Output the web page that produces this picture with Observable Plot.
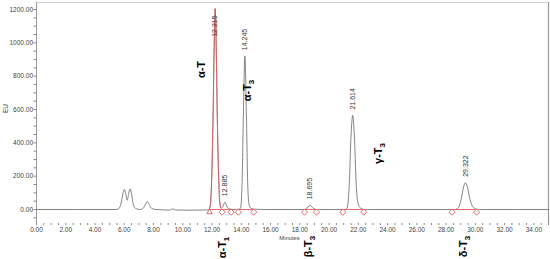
<!DOCTYPE html>
<html>
<head>
<meta charset="utf-8">
<script src="https://cdn.jsdelivr.net/npm/d3@7"></script>
<script src="https://cdn.jsdelivr.net/npm/@observablehq/plot@0.6"></script>
<style>
  html, body { margin: 0; padding: 0; background: #fff; }
  #chart svg { display: block; overflow: visible; }
</style>
</head>
<body>
<div id="chart"></div>
<script>
// ---- Data ----
const traceTime = [0, 5.45, 5.65, 5.8, 5.92, 6.0, 6.1, 6.2, 6.3, 6.4, 6.5, 6.62, 6.8, 7.1, 7.3, 7.45, 7.57, 7.7, 7.85, 8.1, 8.6, 9.1, 9.3, 9.5, 10.5, 11.5, 11.8,
  11.9, 11.98, 12.06, 12.14, 12.215, 12.29, 12.37, 12.45, 12.53, 12.62,
  12.75, 12.83, 12.885, 12.95, 13.05, 13.2, 13.5,
  13.88, 13.95, 14.05, 14.14, 14.245, 14.35, 14.44, 14.53, 14.65, 14.9, 15.5,
  18.3, 18.5, 18.62, 18.695, 18.78, 18.95, 19.2,
  21.1, 21.25, 21.38, 21.5, 21.614, 21.73, 21.85, 21.97, 22.15, 22.4,
  28.6, 28.85, 29.05, 29.2, 29.322, 29.45, 29.6, 29.8, 30.05, 30.3, 35];
const traceEU = [0, 0, 8, 45, 100, 120, 95, 55, 95, 124, 90, 30, 5, 0, 8, 32, 48, 30, 8, 1, -2, -4, 4, -3, -4, -3, 0,
  40, 200, 500, 950, 1205, 950, 500, 200, 40, 8,
  18, 36, 44, 34, 12, 3, 0,
  2, 10, 150, 560, 920, 560, 150, 30, 8, 2, 0,
  0, 8, 22, 25, 20, 6, 0,
  0, 15, 150, 440, 564, 440, 160, 40, 8, 0,
  0, 12, 70, 138, 160, 138, 72, 20, 3, 0, 0];

// α-T peak highlighted in red (time window)
const redStart = 11.8, redEnd = 12.62;

// labelled peaks (retention time, height)
const peakTimes = [12.215, 12.885, 14.245, 18.695, 21.614, 29.322];
const peakHeights = [1205, 44, 920, 25, 564, 160];

// integration baselines
const intStart = [11.83, 12.69, 13.80, 18.32, 20.94, 28.41];
const intEnd   = [12.69, 13.30, 14.85, 19.14, 22.37, 30.08];

// compound annotations
const compoundNames = ["α-T", "α-T_1", "α-T_3", "β-T_3", "γ-T_3", "δ-T_3"];
const compoundTime  = [11.3, 12.71, 14.45, 18.59, 23.38, 29.19];
const compoundEU    = [840, -228, 714, -222, 336, -222];

// axis ticks
const xTickLabels = [0, 2, 4, 6, 8, 10, 12, 14, 16, 18, 20, 22, 24, 26, 28, 30, 32, 34];
const yTickLabels = [0, 200, 400, 600, 800, 1000, 1200];

// ---- Build tables ----
const trace = traceTime.map((t, i) => ({t, v: traceEU[i]}));
const redTrace = trace.filter(d => d.t >= redStart && d.t <= redEnd);
const peaks = peakTimes.map((t, i) => ({t, h: peakHeights[i], label: t.toFixed(3)}));
const bases = intStart.map((s, i) => ({s, e: intEnd[i]}));
const markerTimes = Array.from(new Set([...intStart, ...intEnd])).sort((a, b) => a - b);
const diamonds = markerTimes.filter(t => t !== intStart[0]);
const compounds = compoundNames.map((n, i) => ({n, t: compoundTime[i], v: compoundEU[i]}));

const xMinor = d3.range(0, 35.01, 0.5);
const yMinor = d3.range(-50, 1201, 50);
const fmt2 = d3.format(".2f");

const red = "#e5585c";
const markerY = -16;

const plot = Plot.plot({
  width: 550,
  height: 259,
  marginTop: 2,
  marginRight: 2,
  marginBottom: 36,
  marginLeft: 36,
  x: {domain: [0, 35], axis: null},
  y: {domain: [-84, 1242], axis: null},
  style: {fontFamily: "'Liberation Sans', Arial, sans-serif", fontSize: "6.5px", color: "#333", background: "#fff"},
  marks: [
    Plot.ruleY([1242], {stroke: "#cfcfcf", strokeWidth: 1.2}),
    Plot.ruleX([35], {stroke: "#9a9a9a", strokeWidth: 1.2}),
    Plot.ruleX([0], {stroke: "#9a9a9a", strokeWidth: 1}),
    Plot.axisY({
      ticks: yMinor, tickSize: 2.5, tickPadding: 1, label: null,
      tickFormat: d => yTickLabels.includes(d) ? fmt2(d) : "",
      stroke: "#888", fill: "#444"
    }),
    Plot.axisX({
      ticks: xMinor, tickSize: 2, tickPadding: 1.5, label: null, anchor: "bottom",
      tickFormat: d => xTickLabels.includes(d) ? fmt2(d) : "",
      stroke: "#888", fill: "#444"
    }),
    Plot.text(["EU"], {frameAnchor: "left", dx: -31, rotate: -90, fill: "#444", fontSize: 6.5}),
    Plot.text(["Minutes"], {frameAnchor: "bottom", dy: 16, dx: -3, fill: "#444", fontSize: 5.8}),
    // chromatogram trace
    Plot.line(trace, {x: "t", y: "v", curve: "monotone-x", stroke: "#666", strokeWidth: 0.8}),
    Plot.line(redTrace, {x: "t", y: "v", curve: "monotone-x", stroke: red, strokeWidth: 0.8}),
    // integration baselines and markers
    Plot.link(bases, {x1: "s", x2: "e", y1: 0, y2: 0, stroke: red, strokeWidth: 0.9}),
    Plot.dot(diamonds, {x: d => d, y: markerY, symbol: "diamond2", r: 2.8, stroke: red, strokeWidth: 0.9, fill: "white"}),
    Plot.dot([intStart[0]], {x: d => d, y: markerY, symbol: "triangle2", r: 2.6, stroke: red, strokeWidth: 0.9, fill: "white"}),
    // peak retention-time labels
    Plot.text(peaks, {x: "t", y: d => Math.min(d.h, 1000), text: "label", rotate: -90, textAnchor: "start", dy: -6, fill: "#333", fontSize: 7}),
    // compound annotations
    Plot.text(compounds, {x: "t", y: "v", text: "n", rotate: -90, textAnchor: "middle", fill: "#000", fontSize: 11, fontWeight: "bold"})
  ]
});

// subscripts as real text
plot.querySelectorAll("text").forEach(t => {
  const s = t.textContent;
  if (s.includes("_") && t.children.length === 0) {
    const [base, sub] = s.split("_");
    t.textContent = base;
    const ts = document.createElementNS("http://www.w3.org/2000/svg", "tspan");
    ts.setAttribute("dy", "3");
    ts.setAttribute("font-size", "8");
    ts.textContent = sub;
    t.appendChild(ts);
  }
});

document.getElementById("chart").appendChild(plot);
</script>
</body>
</html>
